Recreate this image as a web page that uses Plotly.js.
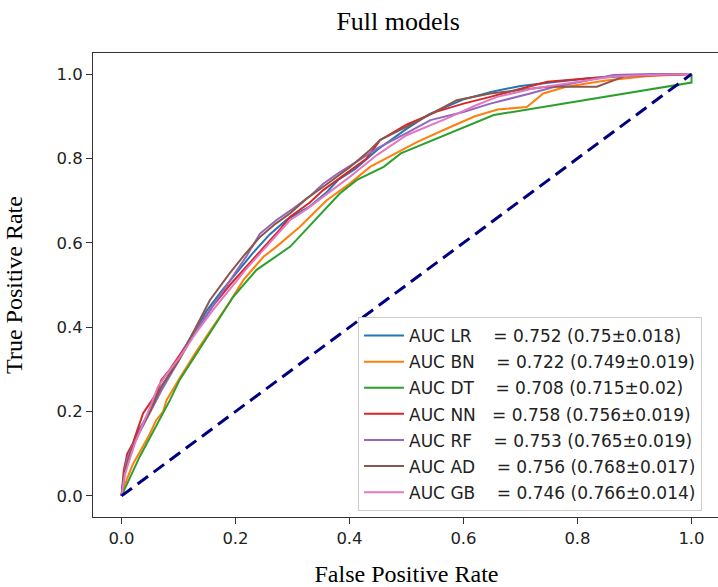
<!DOCTYPE html>
<html>
<head>
<meta charset="utf-8">
<script src="https://cdn.plot.ly/plotly-3.0.1.min.js"></script>
<style>html,body{margin:0;padding:0;background:#fff;overflow:hidden;width:718px;height:587px;}#chart{width:720px;height:587px;}</style>
</head>
<body>
<div id="chart"></div>
<script>
// ROC curves
const models = ["LR", "BN", "DT", "NN", "RF", "AD", "GB"];
const aucFull = ["0.752", "0.722", "0.708", "0.758", "0.753", "0.756", "0.746"];
const aucCV = ["0.75±0.018", "0.749±0.019", "0.715±0.02", "0.756±0.019", "0.765±0.019", "0.768±0.017", "0.766±0.014"];
const labelPad = [4, 4, 4, 3, 4, 4, 4];

const fprLR = [0, 0.005, 0.012, 0.02, 0.03, 0.045, 0.06, 0.08, 0.1, 0.125, 0.15, 0.175, 0.2, 0.23, 0.26, 0.29, 0.33, 0.36, 0.38, 0.41, 0.45, 0.5, 0.54, 0.6, 0.65, 0.7, 0.76, 0.82, 0.88, 0.94, 1.0];
const tprLR = [0, 0.05, 0.09, 0.12, 0.155, 0.19, 0.235, 0.28, 0.325, 0.385, 0.44, 0.485, 0.525, 0.575, 0.62, 0.655, 0.686, 0.72, 0.749, 0.775, 0.822, 0.87, 0.905, 0.94, 0.958, 0.972, 0.981, 0.99, 0.995, 0.998, 1.0];

const fprBN = [0, 0.009, 0.02, 0.035, 0.047, 0.061, 0.073, 0.079, 0.1, 0.13, 0.16, 0.19, 0.214, 0.249, 0.272, 0.313, 0.36, 0.401, 0.436, 0.47, 0.52, 0.571, 0.62, 0.66, 0.711, 0.74, 0.78, 0.85, 0.92, 1.0];
const tprBN = [0, 0.038, 0.075, 0.11, 0.14, 0.18, 0.2, 0.227, 0.275, 0.34, 0.4, 0.46, 0.512, 0.567, 0.591, 0.638, 0.701, 0.741, 0.78, 0.805, 0.84, 0.871, 0.9, 0.916, 0.922, 0.954, 0.97, 0.985, 0.995, 1.0];

const fprDT = [0, 0.032, 0.085, 0.102, 0.196, 0.237, 0.296, 0.383, 0.413, 0.46, 0.49, 0.653, 1.0, 1.0];
const tprDT = [0, 0.093, 0.227, 0.275, 0.472, 0.536, 0.591, 0.717, 0.749, 0.78, 0.812, 0.903, 0.98, 1.0];

const fprNN = [0, 0.004, 0.01, 0.02, 0.03, 0.038, 0.05, 0.0615, 0.07, 0.085, 0.1, 0.12, 0.14, 0.16, 0.19, 0.22, 0.25, 0.28, 0.296, 0.33, 0.354, 0.38, 0.401, 0.43, 0.454, 0.5, 0.553, 0.6, 0.647, 0.7, 0.747, 0.8, 0.863, 0.93, 1.0];
const tprNN = [0, 0.06, 0.1, 0.125, 0.165, 0.196, 0.22, 0.243, 0.275, 0.3, 0.33, 0.37, 0.41, 0.45, 0.5, 0.545, 0.59, 0.635, 0.662, 0.695, 0.725, 0.75, 0.77, 0.8, 0.844, 0.88, 0.911, 0.93, 0.946, 0.965, 0.982, 0.988, 0.995, 0.998, 1.0];

const fprRF = [0, 0.005, 0.009, 0.02, 0.035, 0.05, 0.07, 0.1, 0.13, 0.16, 0.19, 0.22, 0.243, 0.272, 0.3, 0.33, 0.354, 0.38, 0.41, 0.45, 0.5, 0.542, 0.6, 0.647, 0.717, 0.76, 0.806, 0.863, 0.93, 1.0];
const tprRF = [0, 0.05, 0.085, 0.12, 0.16, 0.2, 0.25, 0.32, 0.39, 0.45, 0.51, 0.57, 0.622, 0.654, 0.68, 0.71, 0.74, 0.765, 0.79, 0.825, 0.86, 0.891, 0.91, 0.93, 0.954, 0.97, 0.982, 0.998, 1.0, 1.0];

const fprAD = [0, 0.005, 0.015, 0.03, 0.05, 0.07, 0.1, 0.13, 0.155, 0.19, 0.215, 0.243, 0.27, 0.296, 0.325, 0.354, 0.38, 0.401, 0.436, 0.454, 0.512, 0.55, 0.588, 0.647, 0.7, 0.747, 0.834, 0.881, 0.94, 1.0];
const tprAD = [0, 0.055, 0.1, 0.15, 0.2, 0.26, 0.32, 0.4, 0.464, 0.528, 0.57, 0.614, 0.645, 0.67, 0.705, 0.733, 0.758, 0.78, 0.82, 0.844, 0.883, 0.91, 0.938, 0.954, 0.963, 0.97, 0.97, 0.994, 0.998, 1.0];

const fprGB = [0, 0.006, 0.015, 0.025, 0.038, 0.05, 0.064, 0.08, 0.1, 0.13, 0.16, 0.19, 0.22, 0.25, 0.27, 0.296, 0.325, 0.354, 0.38, 0.401, 0.448, 0.5, 0.571, 0.62, 0.659, 0.72, 0.782, 0.863, 0.93, 1.0];
const tprGB = [0, 0.05, 0.09, 0.13, 0.172, 0.21, 0.259, 0.29, 0.325, 0.385, 0.44, 0.49, 0.54, 0.585, 0.615, 0.654, 0.68, 0.709, 0.735, 0.757, 0.808, 0.855, 0.895, 0.925, 0.946, 0.965, 0.978, 0.994, 0.998, 1.0];

const chanceX = [0, 1];
const chanceY = [0, 1];

const fprs = [fprLR, fprBN, fprDT, fprNN, fprRF, fprAD, fprGB];
const tprs = [tprLR, tprBN, tprDT, tprNN, tprRF, tprAD, tprGB];
const colors = ["#1f77b4", "#ff7f0e", "#2ca02c", "#d62728", "#9467bd", "#8c564b", "#e377c2"];

const traces = models.map((m, i) => ({
  x: fprs[i], y: tprs[i], type: "scatter", mode: "lines",
  name: "AUC " + m + "\u00a0".repeat(labelPad[i]) + "= " + aucFull[i] + " (" + aucCV[i] + ")",
  legendgroup: "g" + i,
  line: {color: colors[i], width: 2}
}));
traces.push({
  x: chanceX, y: chanceY, type: "scatter", mode: "lines", showlegend: false,
  line: {color: "#000080", width: 3, dash: "13px,7px"}
});

const tickFont = {family: "DejaVu Sans", size: 16.5, color: "#222"};
const layout = {
  width: 720, height: 587,
  margin: {l: 93, r: 0, t: 53, b: 70},
  paper_bgcolor: "#fff", plot_bgcolor: "#fff",
  showlegend: true,
  title: {text: "Full models", font: {family: "Liberation Serif", size: 26, color: "#000"},
          x: 0.553, xref: "container", xanchor: "center", y: 0.965, yref: "container", yanchor: "middle"},
  xaxis: {
    range: [-0.05, 1.05], showgrid: false, zeroline: false,
    tickvals: [0, 0.2, 0.4, 0.6, 0.8, 1.0], ticktext: ["0.0", "0.2", "0.4", "0.6", "0.8", "1.0"],
    ticks: "outside", ticklen: 6, tickwidth: 1, tickcolor: "#333",
    showline: true, linecolor: "#333", linewidth: 1, mirror: true,
    tickfont: tickFont,
    title: {text: "False Positive Rate", font: {family: "Liberation Serif", size: 24, color: "#000"}, standoff: 20}
  },
  yaxis: {
    range: [-0.05, 1.05], showgrid: false, zeroline: false,
    tickvals: [0, 0.2, 0.4, 0.6, 0.8, 1.0], ticktext: ["0.0", "0.2", "0.4", "0.6", "0.8", "1.0"],
    ticks: "outside", ticklen: 6, tickwidth: 1, tickcolor: "#333",
    showline: true, linecolor: "#333", linewidth: 1, mirror: false,
    tickfont: tickFont,
    title: {text: "True Positive Rate", font: {family: "Liberation Serif", size: 24, color: "#000"}, standoff: 27}
  },
  legend: {
    x: 0.4227, y: 0.431, xanchor: "left", yanchor: "top",
    bgcolor: "rgba(255,255,255,0.85)", bordercolor: "#cccccc", borderwidth: 1,
    font: {family: "DejaVu Sans", size: 17, color: "#222"},
    tracegroupgap: 1, itemwidth: 40
  }
};

Plotly.newPlot("chart", traces, layout, {displayModeBar: false, staticPlot: true});
</script>
</body>
</html>
